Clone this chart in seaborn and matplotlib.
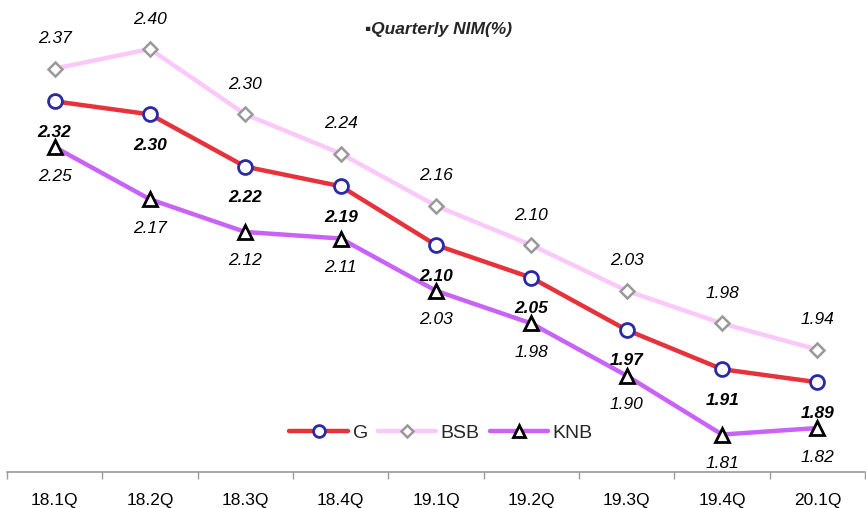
import numpy as np
import pandas as pd
import matplotlib
matplotlib.use("Agg")
import matplotlib.pyplot as plt
import seaborn as sns
from matplotlib.lines import Line2D

quarters = ["18.1Q", "18.2Q", "18.3Q", "18.4Q", "19.1Q", "19.2Q", "19.3Q", "19.4Q", "20.1Q"]
g_vals = [2.32, 2.30, 2.22, 2.19, 2.10, 2.05, 1.97, 1.91, 1.89]
bsb_vals = [2.37, 2.40, 2.30, 2.24, 2.16, 2.10, 2.03, 1.98, 1.94]
knb_vals = [2.25, 2.17, 2.12, 2.11, 2.03, 1.98, 1.90, 1.81, 1.82]

sns.set_theme(style="white")
plt.rcParams["font.family"] = ["Liberation Sans", "DejaVu Sans"]
NARROW = ["Liberation Sans Narrow", "Liberation Sans", "DejaVu Sans"]

STYLE = {
    "G":   dict(color="#E5323B", marker="o", ms=10, mec="#2A2AA6", mew=2.0, dy=-31, weight="bold"),
    "BSB": dict(color="#FBC8FA", marker="D", ms=7.5, mec="#999999", mew=1.8, dy=30, weight="normal"),
    "KNB": dict(color="#C963F7", marker="^", ms=10, mec="#000000", mew=2.0, dy=-29, weight="normal"),
}
series = {"G": g_vals, "BSB": bsb_vals, "KNB": knb_vals}

fig = plt.figure(figsize=(8.66, 5.08), dpi=100)
ax = fig.add_axes([0.008, 0.070, 0.991, 0.930])

x = np.arange(len(quarters))
# BSB first so G/KNB sit on top
for name in ["BSB", "KNB", "G"]:
    st = STYLE[name]
    df = pd.DataFrame({"x": x, "y": series[name]})
    sns.lineplot(data=df, x="x", y="y", ax=ax, color=st["color"], lw=3.2,
                 marker=st["marker"], markersize=st["ms"], markerfacecolor="white",
                 markeredgecolor=st["mec"], markeredgewidth=st["mew"], zorder=3)
    for xi, v in zip(x, series[name]):
        ax.annotate(f"{v:.2f}", (xi, v), xytext=(0, st["dy"]), textcoords="offset pixels",
                    ha="center", va="center", fontsize=12.5, style="italic",
                    fontweight=st["weight"], color="black", family=NARROW, zorder=5)

ax.set_xlim(-0.5, len(quarters) - 0.5)
ax.set_ylim(1.752, 2.475)
ax.set_xlabel("")
ax.set_ylabel("")
ax.set_yticks([])
ax.set_xticks(np.arange(-0.5, len(quarters)), labels=[""] * (len(quarters) + 1))
ax.set_xticks(x, labels=quarters, minor=True)
ax.tick_params(axis="x", which="major", length=5, width=1, color="#999999", direction="out", bottom=True)
ax.tick_params(axis="x", which="minor", length=0, pad=14.5, labelsize=12.5, labelcolor="black")
for s in ["top", "right", "left"]:
    ax.spines[s].set_visible(False)
ax.spines["bottom"].set_color("#999999")
ax.spines["bottom"].set_linewidth(1.2)
ax.set_facecolor("white")

handles = [Line2D([], [], color=STYLE[n]["color"], lw=3.2, marker=STYLE[n]["marker"],
                  markersize=STYLE[n]["ms"] * 0.85, markerfacecolor="white",
                  markeredgecolor=STYLE[n]["mec"], markeredgewidth=STYLE[n]["mew"])
           for n in ["G", "BSB", "KNB"]]
ax.legend(handles, ["G", "BSB", "KNB"], loc="center", bbox_to_anchor=(0.506, 0.083),
          ncol=3, frameon=False, fontsize=14, handlelength=3.0, handletextpad=0.25,
          columnspacing=0.5)

fig.text(0.421, 0.942, "▪Quarterly NIM(%)", fontsize=12.5, style="italic", fontweight="bold",
         ha="left", va="center", family=NARROW + ["DejaVu Sans"])

fig.savefig("out.png", dpi=100, facecolor="white")
